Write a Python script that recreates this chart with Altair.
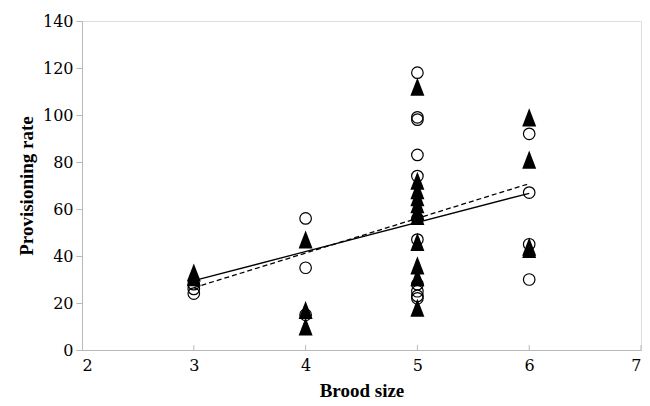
import altair as alt
import pandas as pd

# Filled triangles series
tri_x = [3, 3, 4, 4, 4, 5, 5, 5, 5, 5, 5, 5, 5, 5, 5, 5, 6, 6, 6, 6]
tri_y = [33, 31, 47, 17, 10, 112, 72, 68, 65, 62, 59, 57, 46, 36, 31, 18, 99, 81, 44, 43]

# Open circles series
circ_x = [3, 3, 3, 4, 4, 4, 5, 5, 5, 5, 5, 5, 5, 5, 5, 5, 5, 6, 6, 6, 6]
circ_y = [28, 26, 24, 56, 35, 15, 118, 99, 98, 83, 74, 56, 47, 28, 25, 23, 22, 92, 67, 45, 30]

# Fitted lines (end points)
solid_x = [3, 6]
solid_y = [29.5, 66.7]
dashed_x = [3, 6]
dashed_y = [26.5, 70.8]

x_ticks = [2, 3, 4, 5, 6, 7]
y_ticks = [0, 20, 40, 60, 80, 100, 120, 140]

W, H = 559, 329
FONT = "Liberation Serif"
LFONT = "DejaVu Serif"
GRAY = "#b8b8b8"

tri_df = pd.DataFrame({"x": tri_x, "y": tri_y})
circ_df = pd.DataFrame({"x": circ_x, "y": circ_y})
solid_df = pd.DataFrame({"x": solid_x, "y": solid_y})
dashed_df = pd.DataFrame({"x": dashed_x, "y": dashed_y})
tick_df = pd.DataFrame({"t": x_ticks[1:]})

xscale = alt.Scale(domain=[2, 7], nice=False, zero=False)
yscale = alt.Scale(domain=[0, 140], nice=False)

xenc = alt.X(
    "x:Q", scale=xscale, title="Brood size",
    axis=alt.Axis(values=x_ticks, format="d", ticks=False, labelPadding=7, titlePadding=8),
)
yenc = alt.Y(
    "y:Q", scale=yscale, title="Provisioning rate",
    axis=alt.Axis(values=y_ticks, format="d", tickColor=GRAY, tickSize=6,
                  labelPadding=3, titlePadding=6),
)

circles = alt.Chart(circ_df).mark_point(
    shape="circle", size=133, filled=False, color="black", strokeWidth=1.2, opacity=1
).encode(x=xenc, y=yenc)

triangles = alt.Chart(tri_df).mark_point(
    shape="M0,-1.29L1,1.29L-1,1.29Z", size=196, filled=True, color="black", opacity=1
).encode(x="x:Q", y="y:Q")

solid = alt.Chart(solid_df).mark_line(color="black", strokeWidth=1.3).encode(
    x="x:Q", y="y:Q")
dashed = alt.Chart(dashed_df).mark_line(color="black", strokeWidth=1.3,
                                        strokeDash=[5, 3]).encode(x="x:Q", y="y:Q")

xticks = alt.Chart(tick_df).mark_rule(color=GRAY, strokeWidth=1).encode(
    x=alt.X("t:Q"), y=alt.value(H), y2=alt.value(H - 5))

chart = alt.layer(circles, triangles, solid, dashed, xticks).properties(
    width=W, height=H,
    autosize=alt.AutoSizeParams(type="none"),
    padding={"left": 74, "top": 13, "right": 1, "bottom": 54},
).configure_view(stroke=None).configure(
    background="white", font=FONT
).configure_axis(
    grid=False, domainColor=GRAY, labelFont=LFONT, labelFontSize=16,
    labelColor="black", titleFont=FONT, titleFontSize=19, titleFontWeight="bold",
    titleColor="black",
)

chart.save("out.html", embed_options={"renderer": "svg", "actions": False})
